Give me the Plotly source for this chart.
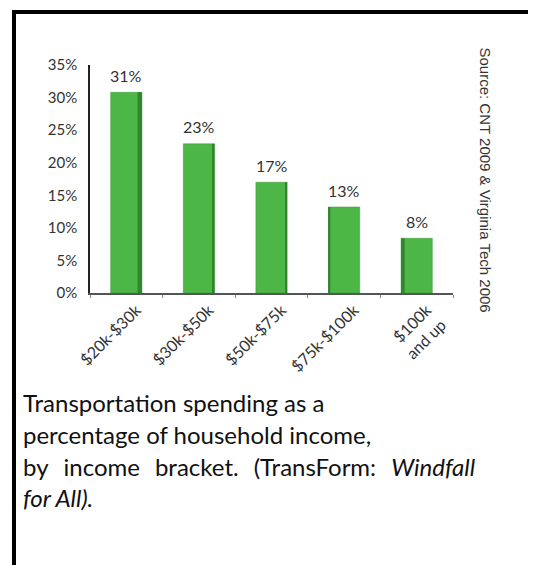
import plotly.graph_objects as go

categories = ["$20k-$30k", "$30k-$50k", "$50k-$75k", "$75k-$100k", "$100k<br>and up"]
values = [30.8, 22.9, 17.0, 13.2, 8.4]
value_labels = ["31%", "23%", "17%", "13%", "8%"]
y_ticks = [0, 5, 10, 15, 20, 25, 30, 35]
y_tick_labels = ["0%", "5%", "10%", "15%", "20%", "25%", "30%", "35%"]
source_text = "Source: CNT 2009 & Virginia Tech 2006"
caption_lines = [
    "Transportation spending as a",
    "percentage of household income,",
    "by income bracket. (TransForm: <i>Windfall</i>",
    "<i>for All).</i>",
]
justified = [False, False, True, False]

W, H = 536, 565
OFF = 8  # page body margin offset
SL, SR, ST, SB = 90, 453, 65, 293
L, R, T, B = SL - OFF, SR - OFF, ST - OFF, SB - OFF


def px(x):
    return (x - SL) / (SR - SL)


def py(y):
    return (SB - y) / (SB - ST)


GREEN = "#4cb646"
DARK = "#2a7a24"

fig = go.Figure()
n = len(categories)
bar_w = 0.43
side_w = [0.06, 0.035, 0.02, 0.025, 0.05]
side_off = [bar_w / 2 - side_w[0], bar_w / 2 - side_w[1], bar_w / 2 - side_w[2],
            -bar_w / 2, -bar_w / 2]

fig.add_trace(go.Bar(
    x=categories, y=values, width=bar_w,
    marker=dict(color=GREEN, line=dict(color="#3d9a38", width=0.5)),
    hoverinfo="skip", showlegend=False,
))
fig.add_trace(go.Bar(
    x=categories, y=values, width=side_w, offset=side_off,
    marker=dict(color=DARK, opacity=0.8, line=dict(width=0)),
    hoverinfo="skip", showlegend=False,
))

for c, v, lab in zip(categories, values, value_labels):
    fig.add_annotation(x=c, y=v, text=lab, showarrow=False, yshift=17,
                       font=dict(family="Lato", size=16, color="#333333"))

# source text (rotated)
fig.add_annotation(xref="paper", yref="paper", x=px(496), y=py(180),
                   text=source_text, textangle=90, showarrow=False,
                   font=dict(family="Liberation Sans", size=15, color="#333333"))

# caption
cap_y = [402, 434, 466, 497]
for line, yy, just in zip(caption_lines, cap_y, justified):
    txt = line.replace(" ", "\u2002\u2009") if just else line
    fig.add_annotation(xref="paper", yref="paper", x=px(21), y=py(yy),
                       xanchor="left", yanchor="middle", text=txt,
                       showarrow=False,
                       font=dict(family="Lato", size=24, color="#111111"))

# frame (top and left border)
fig.add_shape(type="line", xref="paper", yref="paper",
              x0=px(12), x1=px(560), y0=py(12), y1=py(12),
              line=dict(color="black", width=4))
fig.add_shape(type="line", xref="paper", yref="paper",
              x0=px(14), x1=px(14), y0=py(10), y1=py(600),
              line=dict(color="black", width=4))

fig.update_layout(
    width=W, height=H,
    margin=dict(l=L, r=W - R, t=T, b=H - B),
    paper_bgcolor="white", plot_bgcolor="white",
    barmode="overlay",
    xaxis=dict(
        type="category", range=[-0.5, n - 0.5],
        showline=True, linecolor="#555555", linewidth=1.5,
        ticks="outside", tickson="boundaries", ticklen=3, tickcolor="#888888",
        tickangle=-45, showgrid=False, zeroline=False, ticklabelshift=10,
        ticklabelstandoff=0,
        tickfont=dict(family="Lato", size=16, color="#333333"),
    ),
    yaxis=dict(
        range=[0, 35], tickvals=y_ticks, ticktext=y_tick_labels,
        showline=True, linecolor="#222222", linewidth=1.5,
        showgrid=False, zeroline=False, ticks="", ticklabelstandoff=8,
        tickfont=dict(family="Lato", size=15, color="#333333"),
    ),
)

fig.write_html("out.html")
